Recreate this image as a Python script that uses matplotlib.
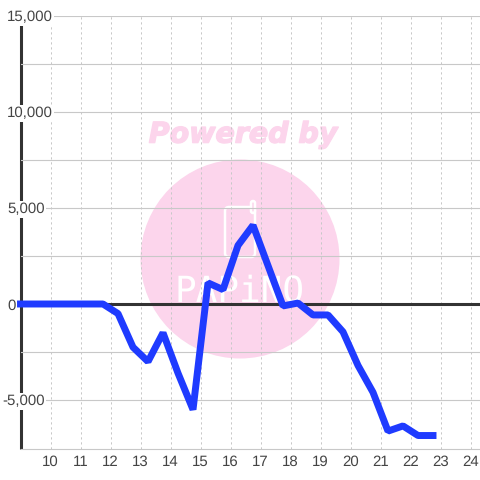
import matplotlib
matplotlib.use("Agg")
import matplotlib.pyplot as plt
import matplotlib.patheffects as pe
from matplotlib.patches import Circle, FancyBboxPatch

plt.rcParams['font.family'] = ['Liberation Sans', 'DejaVu Sans']
plt.rcParams['text.hinting'] = 'no_hinting'
plt.rcParams['text.hinting_factor'] = 1

hours = [9, 11.75, 12.25, 12.75, 13.25, 13.75, 14.25, 14.75, 15.25, 15.75, 16.25, 16.75,
         17.25, 17.75, 18.25, 18.75, 19.25, 19.75, 20.25, 20.75, 21.25, 21.75, 22.25, 22.75]
values = [0, 0, -500, -2250, -3000, -1500, -3600, -5500, 1100, 750, 3050, 4100,
          2000, -100, 50, -570, -570, -1450, -3200, -4600, -6620, -6350, -6850, -6850]
x_ticks = list(range(10, 25))
y_ticks = [-5000, 0, 5000, 10000, 15000]
y_minor = [-2500, 2500, 7500, 12500]
y_labels = ['-5,000', '0', '5,000', '10,000', '15,000']

PX = 1 / 100
W = 480
fig = plt.figure(figsize=(W * PX, W * PX), dpi=100)

# watermark goes behind everything, in pixel coords
bg = fig.add_axes([0, 0, 1, 1], zorder=0)
bg.set_xlim(0, W)
bg.set_ylim(W, 0)
bg.axis('off')
pink = '#fcd5ec'
bg.add_patch(Circle((240, 259), 99.5, fc=pink, ec='none'))
bg.text(241.5, 135, 'Powered by', color=pink, fontsize=20.5, fontweight='bold', fontstyle='italic',
        family='DejaVu Sans', ha='center', va='center',
        path_effects=[pe.withStroke(linewidth=1, foreground=pink)])
bg.add_patch(FancyBboxPatch((225, 207), 30, 50, boxstyle='round,pad=0,rounding_size=4',
                            fc='none', ec='white', lw=1.8))
bg.add_patch(FancyBboxPatch((251, 201), 4, 12, boxstyle='round,pad=0,rounding_size=2',
                            fc=pink, ec='white', lw=1.8))
bg.text(240, 291, 'PAPiNO', color='white', fontsize=26, family='DejaVu Sans Mono', ha='center', va='center')

ax = fig.add_axes([20.5 / W, (W - 448.5) / W, (W - 20.5) / W, (448.5 - 16) / W], zorder=1)
ax.patch.set_alpha(0)
ax.set_xlim(9, 9 + (W - 20.5) / 30)
ax.set_ylim(-7500 * (144.5 / 144), 15000)

for s in ['top', 'right']:
    ax.spines[s].set_visible(False)
ax.spines['left'].set_color('#333333')
ax.spines['left'].set_linewidth(2.2)
ax.spines['left'].set_zorder(0.4)  # label backgrounds cut through the axis line
ax.spines['left'].set_capstyle('butt')
ax.spines['bottom'].set_color('#c8c8c8')
ax.spines['bottom'].set_linewidth(0.8)

ax.set_xticks(x_ticks)
ax.set_yticks(y_ticks)
ax.set_yticks(y_minor, minor=True)
ax.set_yticklabels(y_labels)
ax.tick_params(axis='both', which='both', length=0)
ax.tick_params(axis='x', labelsize=10.6, labelcolor='#444444', pad=5)
ax.tick_params(axis='y', labelsize=10.6, labelcolor='#444444', pad=9.7)
for lab in ax.get_yticklabels():
    lab.set_ha('left')
    lab.set_bbox(dict(fc='white', ec='none', pad=1))
# the hyphen hangs out to the left of the others
ax.yaxis.get_major_ticks()[0].set_pad(13.3)

ax.grid(axis='y', which='both', color='#c8c8c8', lw=0.8)
ax.grid(axis='x', color='#c8c8c8', lw=0.72, ls=(0, (2.2, 2.8)))
ax.set_axisbelow(True)

ax.axhline(0, color='#333333', lw=2.2, zorder=3)
ax.plot(hours, values, color='#1f3bff', lw=5, solid_capstyle='projecting',
        solid_joinstyle='bevel', clip_on=False, zorder=4)

fig.savefig('out.png', dpi=100)
